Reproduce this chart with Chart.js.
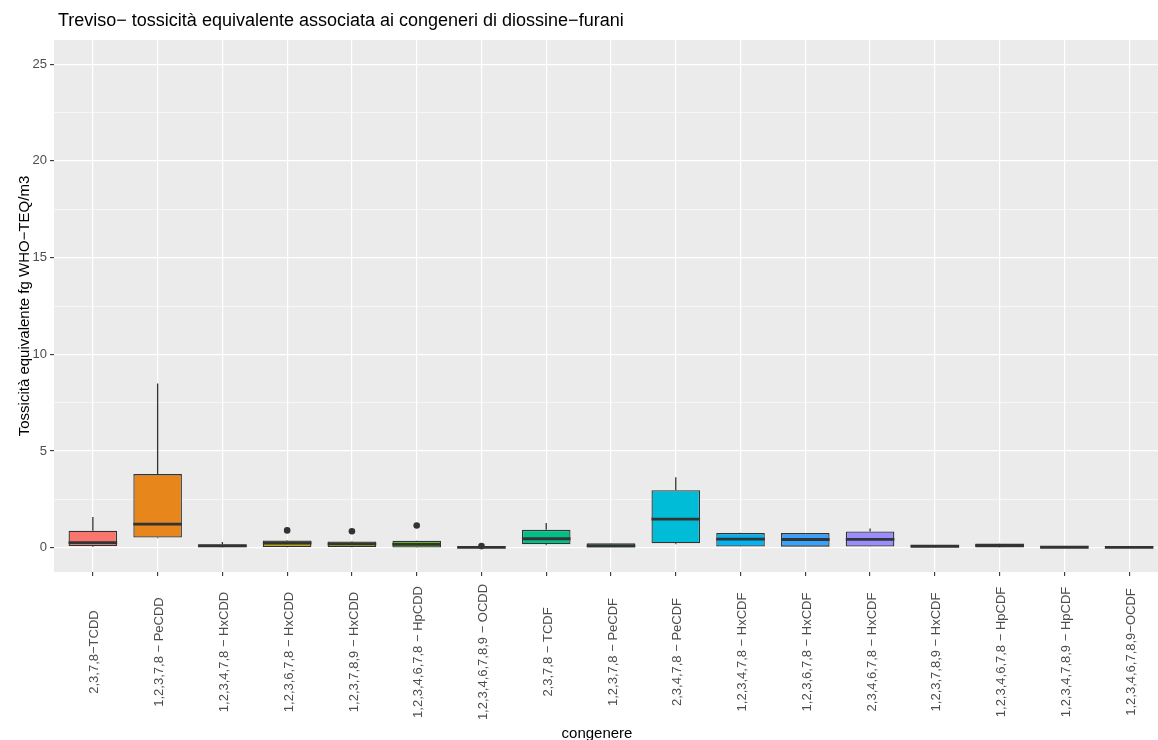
<!DOCTYPE html>
<html>
<head>
<meta charset="utf-8">
<script src="https://cdn.jsdelivr.net/npm/chart.js@4"></script>
<style>
    html, body { margin: 0; padding: 0; overflow: hidden; background: #fff; }
    #wrap { width: 1172px; height: 740px; }
</style>
</head>
<body>
<div id="wrap"><canvas id="boxChart"></canvas></div>
<script>
const categories = [
    '2,3,7,8−TCDD',
    '1,2,3,7,8 − PeCDD',
    '1,2,3,4,7,8 − HxCDD',
    '1,2,3,6,7,8 − HxCDD',
    '1,2,3,7,8,9 − HxCDD',
    '1,2,3,4,6,7,8 − HpCDD',
    '1,2,3,4,6,7,8,9 − OCDD',
    '2,3,7,8 − TCDF',
    '1,2,3,7,8 − PeCDF',
    '2,3,4,7,8 − PeCDF',
    '1,2,3,4,7,8 − HxCDF',
    '1,2,3,6,7,8 − HxCDF',
    '2,3,4,6,7,8 − HxCDF',
    '1,2,3,7,8,9 − HxCDF',
    '1,2,3,4,6,7,8 − HpCDF',
    '1,2,3,4,7,8,9 − HpCDF',
    '1,2,3,4,6,7,8,9−OCDF'
];

const whiskerLow  = [0.06, 0.50, 0.02, 0.03, 0.03, 0.00, 0.00, 0.13, 0.01, 0.19, 0.06, 0.05, 0.06, 0.02, 0.00, 0.00, 0.00];
const q1          = [0.10, 0.53, 0.03, 0.04, 0.04, 0.01, 0.00, 0.18, 0.02, 0.23, 0.07, 0.06, 0.07, 0.03, 0.01, 0.00, 0.00];
const medians     = [0.27, 1.22, 0.10, 0.25, 0.20, 0.18, 0.02, 0.47, 0.10, 1.48, 0.45, 0.43, 0.44, 0.08, 0.12, 0.03, 0.02];
const q3          = [0.88, 3.81, 0.19, 0.38, 0.33, 0.36, 0.06, 0.93, 0.23, 2.98, 0.76, 0.76, 0.84, 0.13, 0.22, 0.07, 0.05];
const whiskerHigh = [1.59, 8.50, 0.30, 0.40, 0.35, 0.38, 0.08, 1.28, 0.25, 3.65, 0.78, 0.77, 1.00, 0.14, 0.24, 0.08, 0.06];

// outliers: category position (1-based) and value
const outlierCat = [4, 5, 6, 7];
const outlierVal = [0.90, 0.86, 1.15, 0.09];

const yTickValues = [0, 2.5, 5, 7.5, 10, 12.5, 15, 17.5, 20, 22.5, 25];

const fillColors = [
    '#F8766D', '#E7861B', '#D09400', '#B2A100', '#8DAB00', '#45B500',
    '#00BC51', '#00C087', '#00C1B2', '#00BCD6', '#00B3F2', '#35A2FF',
    '#9A8EFF', '#D177FE', '#F066E9', '#FD61C8', '#FF6C91'
];

const ink = '#333333';
const FONT = '"Liberation Sans", Arial, Helvetica, sans-serif';

// grey panel behind the plot
const panelBg = {
    id: 'panelBg',
    beforeDraw(chart) {
        const { ctx, chartArea: a } = chart;
        ctx.save();
        ctx.fillStyle = '#EBEBEB';
        ctx.fillRect(a.left, a.top, a.right - a.left, a.bottom - a.top);
        ctx.restore();
    }
};

// whiskers under the boxes, medians on top
const boxParts = {
    id: 'boxParts',
    beforeDatasetsDraw(chart) {
        const { ctx, scales: { x, y } } = chart;
        ctx.save();
        ctx.strokeStyle = ink;
        ctx.lineWidth = 1.3;
        categories.forEach((c, i) => {
            const px = x.getPixelForValue(i + 1);
            ctx.beginPath();
            ctx.moveTo(px, y.getPixelForValue(q3[i]));
            ctx.lineTo(px, y.getPixelForValue(whiskerHigh[i]));
            ctx.moveTo(px, y.getPixelForValue(q1[i]));
            ctx.lineTo(px, y.getPixelForValue(whiskerLow[i]));
            ctx.stroke();
        });
        ctx.restore();
    },
    afterDatasetsDraw(chart) {
        const { ctx, scales: { x, y } } = chart;
        const bars = chart.getDatasetMeta(0).data;
        ctx.save();
        ctx.strokeStyle = ink;
        ctx.lineWidth = 2.8;
        categories.forEach((c, i) => {
            const px = x.getPixelForValue(i + 1);
            const half = bars[i].width / 2;
            const py = y.getPixelForValue(medians[i]);
            ctx.beginPath();
            ctx.moveTo(px - half, py);
            ctx.lineTo(px + half, py);
            ctx.stroke();
        });
        ctx.restore();
    }
};

// title, axis titles and the rotated category labels
const texts = {
    id: 'texts',
    afterDraw(chart) {
        const { ctx, chartArea: a, scales: { x } } = chart;
        ctx.save();
        ctx.fillStyle = '#000';
        ctx.font = '18px ' + FONT;
        ctx.textAlign = 'left';
        ctx.textBaseline = 'alphabetic';
        ctx.fillText('Treviso− tossicità equivalente associata ai congeneri di diossine−furani', 58, 26);

        ctx.font = '15px ' + FONT;
        ctx.textAlign = 'center';
        ctx.fillText('congenere', 597, 738);

        ctx.save();
        ctx.translate(25, (a.top + a.bottom) / 2);
        ctx.rotate(-Math.PI / 2);
        ctx.textBaseline = 'middle';
        ctx.fillText('Tossicità equivalente fg WHO−TEQ/m3', 0, 0);
        ctx.restore();

        ctx.fillStyle = '#4D4D4D';
        ctx.font = '13px ' + FONT;
        ctx.textBaseline = 'middle';
        categories.forEach((label, i) => {
            ctx.save();
            ctx.translate(x.getPixelForValue(i + 1) + 2, a.bottom + 80);
            ctx.rotate(-Math.PI / 2);
            ctx.fillText(label, 0, 0);
            ctx.restore();
        });
        ctx.restore();
    }
};

new Chart(document.getElementById('boxChart'), {
    type: 'bar',
    data: {
        datasets: [{
            type: 'bar',
            order: 2,
            data: categories.map((c, i) => ({ x: i + 1, y: [q1[i], q3[i]] })),
            backgroundColor: fillColors,
            borderColor: ink,
            borderWidth: 1.3,
            borderSkipped: false,
            categoryPercentage: 1,
            barPercentage: 0.75
        }, {
            type: 'scatter',
            order: 1,
            data: outlierCat.map((c, i) => ({ x: c, y: outlierVal[i] })),
            backgroundColor: ink,
            borderColor: ink,
            pointRadius: 3.3,
            pointBorderWidth: 0
        }]
    },
    options: {
        responsive: true,
        maintainAspectRatio: false,
        animation: false,
        layout: { padding: { top: 40, right: 0, left: 0, bottom: 0 } },
        plugins: {
            legend: { display: false },
            tooltip: { enabled: false },
            title: { display: false }
        },
        scales: {
            x: {
                type: 'linear',
                min: 0.4,
                max: 17.6,
                offset: false,
                afterBuildTicks: (scale) => {
                    scale.ticks = categories.map((c, i) => ({ value: i + 1 }));
                },
                afterFit: (scale) => { scale.height = 168; },
                ticks: { display: false },
                grid: {
                    offset: false,
                    color: '#FFFFFF',
                    lineWidth: 1.2,
                    drawTicks: true,
                    tickLength: 4,
                    tickColor: ink,
                    tickWidth: 1.1
                },
                border: { display: false }
            },
            y: {
                type: 'linear',
                min: -1.25,
                max: 26.25,
                afterBuildTicks: (scale) => {
                    scale.ticks = yTickValues.map(v => ({ value: v }));
                },
                afterFit: (scale) => { scale.width = 54; },
                ticks: {
                    color: '#4D4D4D',
                    font: { family: FONT, size: 13 },
                    padding: 3,
                    callback: (v) => (v % 5 === 0 ? String(v) : '')
                },
                grid: {
                    color: '#FFFFFF',
                    lineWidth: (c) => (c.tick && c.tick.value % 5 === 0 ? 1.2 : 0.6),
                    tickLength: 4,
                    tickColor: (c) => (c.tick && c.tick.value % 5 === 0 ? ink : 'rgba(0,0,0,0)'),
                    tickWidth: 1.1
                },
                border: { display: false }
            }
        }
    },
    plugins: [panelBg, boxParts, texts]
});
</script>
</body>
</html>
